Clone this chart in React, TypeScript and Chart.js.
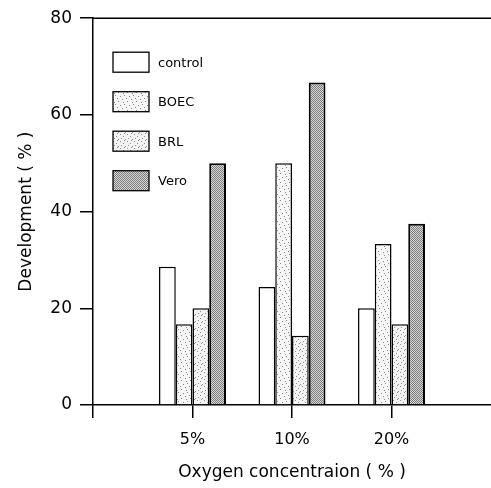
import React, { useEffect, useRef } from "react";
import { Chart, registerables } from "chart.js";

Chart.register(...registerables);

const categories = ["5%", "10%", "20%"];
const seriesNames = ["control", "BOEC", "BRL", "Vero"];
const controlValues = [28.6, 24.4, 20.0];
const boecValues = [16.7, 50.0, 33.3];
const brlValues = [20.0, 14.3, 16.7];
const veroValues = [50.0, 66.7, 37.5];
const yTicks = [0, 20, 40, 60, 80];

const FONT = "'DejaVu Sans', 'Liberation Sans', Arial, sans-serif";

function makePattern(size: number, bg: string, fg: string, dots: number[][]) {
  const c = document.createElement("canvas");
  c.width = size;
  c.height = size;
  const g = c.getContext("2d")!;
  g.fillStyle = bg;
  g.fillRect(0, 0, size, size);
  g.fillStyle = fg;
  dots.forEach(([x, y]) => g.fillRect(x, y, 1, 1));
  const ctx = document.createElement("canvas").getContext("2d")!;
  return ctx.createPattern(c, "repeat") as CanvasPattern;
}

export default function App() {
  const ref = useRef<HTMLCanvasElement>(null);
  useEffect(() => {
    const fills: (string | CanvasPattern)[] = [
      "#ffffff",
      makePattern(9, "#f6f6f6", "#8a8a8a", [[1, 2], [5, 0], [7, 5], [3, 6], [0, 8], [6, 3]]),
      makePattern(7, "#f3f3f3", "#909090", [[1, 1], [4, 3], [2, 5], [6, 6], [5, 0]]),
      makePattern(4, "#d6d6d6", "#7c7c7c", [[0, 0], [2, 0], [1, 1], [3, 1], [0, 2], [2, 2], [1, 3], [3, 3]]),
    ];
    const values = [controlValues, boecValues, brlValues, veroValues];
    const labels = ["", ...categories, ""];
    const datasets = seriesNames.map((name, i) => ({
      label: name,
      data: [null, ...values[i], null],
      backgroundColor: fills[i],
      borderColor: "#000",
      borderWidth: i === 3 ? 2 : 1.5,
      categoryPercentage: 0.673,
      barPercentage: 1,
    }));

    const legendPlugin = {
      id: "innerLegend",
      afterDraw(chart: any) {
        const { ctx, chartArea: ca } = chart;
        ctx.save();
        ctx.strokeStyle = "#000";
        ctx.lineWidth = 1.5;
        ctx.beginPath();
        ctx.moveTo(ca.left, ca.top);
        ctx.lineTo(ca.right, ca.top);
        ctx.stroke();
        chart.data.datasets.forEach((ds: any, i: number) => {
          const x = ca.left + 20;
          const y = ca.top + 34 + i * 39.5;
          ctx.fillStyle = ds.backgroundColor;
          ctx.fillRect(x, y, 36, 20);
          ctx.lineWidth = 1.3;
          ctx.strokeStyle = "#000";
          ctx.strokeRect(x, y, 36, 20);
          ctx.fillStyle = "#000";
          ctx.font = "13px " + FONT;
          ctx.textAlign = "left";
          ctx.textBaseline = "middle";
          ctx.fillText(ds.label, x + 45, y + 11);
        });
        ctx.restore();
      },
    };

    const chart = new Chart(ref.current!, {
      type: "bar",
      data: { labels, datasets: datasets as any },
      plugins: [legendPlugin],
      options: {
        animation: false,
        responsive: true,
        maintainAspectRatio: false,
        layout: { padding: { top: 16, right: 0, left: 0, bottom: 0 } },
        plugins: { legend: { display: false }, tooltip: { enabled: false } },
        font: { family: FONT },
        scales: {
          x: {
            type: "category",
            offset: false,
            afterFit: (s: any) => {
              s.height = 83;
              s.paddingLeft = 0;
              s.paddingRight = 0;
            },
            border: { display: true, color: "#000", width: 1.5 },
            grid: {
              display: true,
              offset: false,
              drawOnChartArea: false,
              drawTicks: true,
              tickLength: 13,
              lineWidth: 1.5,
              color: (c: any) => (c.index === 4 ? "rgba(0,0,0,0)" : "#000"),
            },
            ticks: {
              autoSkip: false,
              maxRotation: 0,
              padding: 12,
              color: "#000",
              font: { size: 16, family: FONT },
            },
            title: {
              display: true,
              text: "Oxygen concentraion ( % )",
              color: "#000",
              font: { size: 17, family: FONT },
              padding: { top: 0, bottom: 5 },
            },
          },
          y: {
            min: 0,
            max: 80,
            afterFit: (s: any) => { s.width = 93; },
            afterBuildTicks: (s: any) => { s.ticks = yTicks.map((v) => ({ value: v })); },
            border: { display: true, color: "#000", width: 1.5 },
            grid: {
              display: true,
              drawOnChartArea: false,
              drawTicks: true,
              tickLength: 13,
              lineWidth: 1.5,
              color: "#000",
            },
            ticks: {
              padding: 8,
              color: "#000",
              font: { size: 17, family: FONT },
            },
            title: {
              display: true,
              text: "Development ( % )",
              color: "#000",
              font: { size: 17, family: FONT },
              padding: { top: 16, bottom: 0 },
            },
          },
        },
      },
    });
    return () => chart.destroy();
  }, []);

  return (
    <div style={{ position: "fixed", left: 0, top: 0, width: 491, height: 488 }}>
      <canvas ref={ref} />
    </div>
  );
}
